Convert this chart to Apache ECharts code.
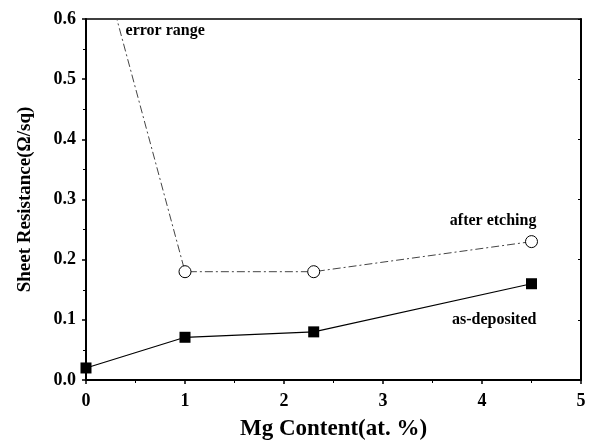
<!DOCTYPE html>
<html>
<head>
<meta charset="utf-8">
<script src="https://cdn.jsdelivr.net/npm/echarts@6/dist/echarts.min.js"></script>
<style>
  html, body { margin: 0; padding: 0; background: #fff; }
  #chart { width: 590px; height: 441px; }
</style>
</head>
<body>
<div id="chart"></div>
<script>
// Mg content (at. %) and sheet resistance (Ω/sq)
const mgContent = [0, 1, 2.3, 4.5]
const asDeposited = [0.02, 0.071, 0.08, 0.16]
const afterEtching = [0.79, 0.18, 0.18, 0.23] // first point lies above the axis, clipped

const xTicks = ['0', '1', '2', '3', '4', '5']
const yTicks = ['0.0', '0.1', '0.2', '0.3', '0.4', '0.5', '0.6']

// annotations: [text, x, y, align] in data space
const notes = [
  ['error range', 0.4, 0.58, 'left'],
  ['after etching', 4.55, 0.265, 'right'],
  ['as-deposited', 4.55, 0.1, 'right']
]

const font = 'Liberation Serif, Times New Roman, serif'
const chart = echarts.init(document.getElementById('chart'))

const frameAxis = {
  min: 0,
  axisLine: { show: true, onZero: false, lineStyle: { color: '#000', width: 2 } },
  axisTick: { show: true, inside: false, length: 4, lineStyle: { color: '#000', width: 1.5 } },
  minorTick: { show: true, splitNumber: 2, length: 3, lineStyle: { color: '#000', width: 1 } },
  splitLine: { show: false }
}

chart.setOption({
  animation: false,
  backgroundColor: '#fff',
  grid: { left: 86, right: 9, top: 19, bottom: 61, containLabel: false, outerBoundsMode: 'none' },
  xAxis: [
    Object.assign({}, frameAxis, {
      type: 'value', max: 5, interval: 1,
      name: 'Mg Content(at. %)',
      nameLocation: 'middle',
      nameGap: 38,
      nameTextStyle: { fontFamily: font, fontWeight: 'bold', fontSize: 23, color: '#000' },
      axisLabel: {
        margin: 12, fontFamily: font, fontWeight: 'bold', fontSize: 18, color: '#000',
        formatter: v => xTicks[Math.round(v)]
      }
    }),
    Object.assign({}, frameAxis, {
      type: 'value', max: 5, interval: 1, position: 'top',
      axisLine: { show: true, onZero: false, lineStyle: { color: '#000', width: 1.5 } },
      axisTick: { show: false }, minorTick: { show: false },
      axisLabel: { show: false }
    })
  ],
  yAxis: [
    Object.assign({}, frameAxis, {
      type: 'value', max: 0.6, interval: 0.1,
      name: 'Sheet Resistance(Ω/sq)',
      nameLocation: 'middle',
      nameGap: 51,
      nameTextStyle: { fontFamily: font, fontWeight: 'bold', fontSize: 19, color: '#000' },
      axisLabel: {
        margin: 10, fontFamily: font, fontWeight: 'bold', fontSize: 18, color: '#000',
        formatter: v => yTicks[Math.round(v * 10)]
      }
    }),
    Object.assign({}, frameAxis, {
      type: 'value', max: 0.6, interval: 0.1, position: 'right',
      axisLine: { show: true, onZero: false, lineStyle: { color: '#000', width: 2 } },
      axisLabel: { show: false },
      axisTick: { show: true, inside: true, length: 3, lineStyle: { color: '#000', width: 1 } },
      minorTick: { show: false }
    })
  ],
  series: [
    {
      name: 'after etching',
      type: 'line',
      data: mgContent.map((x, i) => [x, afterEtching[i]]),
      symbol: 'circle',
      symbolSize: 12,
      showAllSymbol: true,
      itemStyle: { color: '#fff', borderColor: '#000', borderWidth: 1 },
      lineStyle: { color: '#444', width: 1, type: [8, 3, 2, 3] },
      z: 3
    },
    {
      name: 'as-deposited',
      type: 'line',
      data: mgContent.map((x, i) => [x, asDeposited[i]]),
      symbol: 'rect',
      symbolSize: 11,
      itemStyle: { color: '#000' },
      lineStyle: { color: '#000', width: 1.2 },
      z: 4
    }
  ]
})

// annotation texts placed via the axes
chart.setOption({
  graphic: notes.map(n => {
    const p = chart.convertToPixel({ xAxisIndex: 0, yAxisIndex: 0 }, [n[1], n[2]])
    return {
      type: 'text', x: p[0], y: p[1],
      style: {
        text: n[0], fill: '#000', font: 'bold 16px ' + font,
        textAlign: n[3], textVerticalAlign: 'middle'
      }
    }
  })
})
</script>
</body>
</html>
